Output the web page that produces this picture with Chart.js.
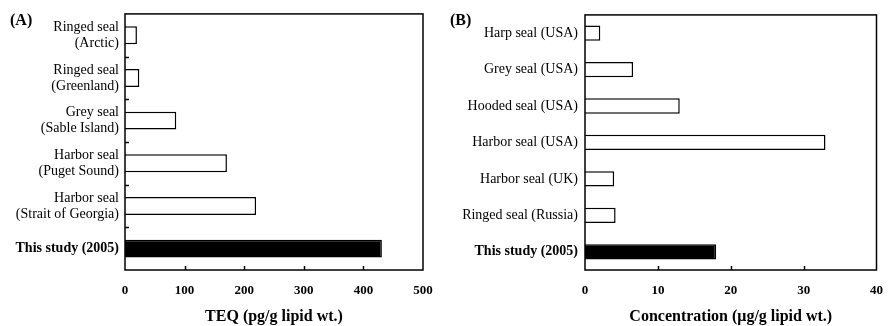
<!DOCTYPE html>
<html>
<head>
<meta charset="utf-8">
<script src="https://cdn.jsdelivr.net/npm/chart.js@4/dist/chart.umd.min.js"></script>
<style>
  body { margin: 0; background: #fff; }
  #wrap { position: relative; width: 896px; height: 326px; }
  canvas { position: absolute; top: 0; }
  #ca { left: 0; }
  #cb { left: 448px; }
  .tag { position: absolute; top: 11px; font: bold 16px "Liberation Serif", serif; }
</style>
</head>
<body>
<div id="wrap">
  <canvas id="ca" width="448" height="326"></canvas>
  <canvas id="cb" width="448" height="326"></canvas>
  <div class="tag" style="left:10px">(A)</div>
  <div class="tag" style="left:450px">(B)</div>
</div>
<script>
const labelsA = [
  ["Ringed seal", "(Arctic)"],
  ["Ringed seal", "(Greenland)"],
  ["Grey seal", "(Sable Island)"],
  ["Harbor seal", "(Puget Sound)"],
  ["Harbor seal", "(Strait of Georgia)"],
  "This study (2005)"
]
const teqA = [20, 24, 86, 171, 220, 431]

const labelsB = [
  "Harp seal (USA)",
  "Grey seal (USA)",
  "Hooded seal (USA)",
  "Harbor seal (USA)",
  "Harbor seal (UK)",
  "Ringed seal (Russia)",
  "This study (2005)"
]
const concB = [2.1, 6.6, 13.0, 33.0, 4.0, 4.2, 18.0]

const serif = "'Liberation Serif', 'Times New Roman', serif"

// box around plot + inward tick marks
const frame = {
  id: 'frame',
  afterDraw(chart, args, opts) {
    const {ctx, chartArea: a} = chart
    const x = chart.scales.x, y = chart.scales.y
    ctx.save()
    ctx.strokeStyle = '#000'
    ctx.lineWidth = 1.5
    ctx.strokeRect(a.left, a.top, a.right - a.left, a.bottom - a.top)
    ctx.beginPath()
    x.ticks.forEach(t => {
      if (t.value <= x.min || t.value >= x.max) return
      const px = Math.round(x.getPixelForValue(t.value)) + 0.5
      ctx.moveTo(px, a.bottom)
      ctx.lineTo(px, a.bottom - 4)
    })
    if (opts.yTicks) {
      for (let i = 0; i < y.ticks.length - 1; i++) {
        const py = Math.round((y.getPixelForValue(i) + y.getPixelForValue(i + 1)) / 2) + 0.5
        ctx.moveTo(a.left, py)
        ctx.lineTo(a.left + 4, py)
      }
    }
    ctx.stroke()
    ctx.restore()
  }
}

function makeChart(id, labels, values, last, opts) {
  const fills = values.map((v, i) => i === values.length - 1 ? '#000' : '#fff')
  return new Chart(document.getElementById(id), {
    type: 'bar',
    data: {
      labels: labels,
      datasets: [{
        data: values,
        backgroundColor: fills,
        borderColor: '#000',
        borderWidth: 1.5,
        categoryPercentage: 1,
        barPercentage: 0.42
      }]
    },
    plugins: [frame],
    options: {
      indexAxis: 'y',
      responsive: false,
      animation: false,
      layout: { padding: { top: 13, right: opts.padRight, left: 0, bottom: 0 } },
      plugins: {
        legend: { display: false },
        tooltip: { enabled: false },
        frame: { yTicks: opts.yTicks }
      },
      scales: {
        x: {
          min: 0,
          max: last,
          border: { display: false },
          grid: { display: false, drawTicks: false },
          ticks: {
            stepSize: opts.step,
            padding: 13,
            color: '#000',
            maxRotation: 0,
            font: { family: serif, size: 13, weight: 'bold' }
          },
          title: {
            display: true,
            text: opts.title,
            color: '#000',
            padding: { top: 0, bottom: 0 },
            font: { family: serif, size: 16, weight: 'bold' }
          },
          afterFit(s) { s.height = 56 }
        },
        y: {
          border: { display: false },
          grid: { display: false, drawTicks: false },
          ticks: {
            padding: opts.yPad,
            color: '#000',
            autoSkip: false,
            font: ctx => ({
              family: serif,
              size: 14,
              lineHeight: 1.13,
              weight: ctx.index === labels.length - 1 ? 'bold' : 'normal'
            })
          },
          afterFit(s) { s.width = opts.yWidth }
        }
      }
    }
  })
}

makeChart('ca', labelsA, teqA, 500, {
  step: 100, title: 'TEQ (pg/g lipid wt.)', padRight: 25, yWidth: 125, yPad: 6, yTicks: true
})
makeChart('cb', labelsB, concB, 40, {
  step: 10, title: 'Concentration (\u03bcg/g lipid wt.)', padRight: 9, yWidth: 137, yPad: 7, yTicks: false
})
</script>
</body>
</html>
